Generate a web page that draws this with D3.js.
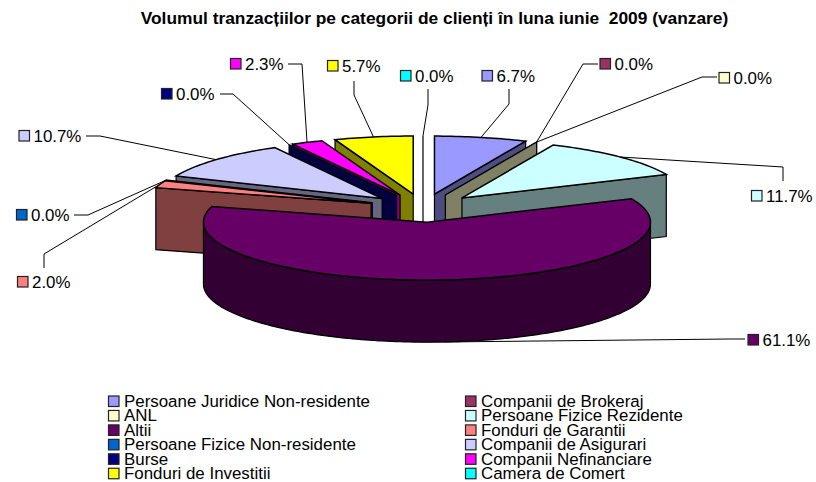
<!DOCTYPE html>
<html>
<head>
<meta charset="utf-8">
<script src="https://cdn.jsdelivr.net/npm/d3@7/dist/d3.min.js"></script>
<style>
html,body{margin:0;padding:0;background:#fff}
svg{display:block}
text{font-family:"Liberation Sans",Arial,sans-serif;fill:#000;white-space:pre}
</style>
</head>
<body>
<svg id="chart" width="816" height="482"></svg>
<script>
const titleText = "Volumul tranzacțiilor pe categorii de clienți în luna iunie  2009 (vanzare)";
const categories = ["Persoane Juridice Non-residente","Companii de Brokeraj","ANL","Persoane Fizice Rezidente","Altii","Fonduri de Garantii","Persoane Fizice Non-residente","Companii de Asigurari","Burse","Companii Nefinanciare","Fonduri de Investitii","Camera de Comert"];
const shares = [6.7,0,0,11.7,61.1,2.0,0,10.7,0,2.3,5.7,0];
const palette = ["#9999FF","#993366","#FFFFCC","#CCFFFF","#660066","#FF8080","#0066CC","#CCCCFF","#000080","#FF00FF","#FFFF00","#00FFFF"];
// label layout: swatch left edge, label centre line, then the leader's free points (label end first)
const labelX = [481.5,599.5,718.5,751,747.5,17,16,18.5,161,230,327,400];
const labelY = [76,64,78,196,340,282,215,136,94,64,66,76];
const leaderX = [[509,509],[598,583],[717,702],[783,783],[745,730],[44,44],[74,88],[86,100],[220,233],[288,302],[354,354],[428,428]];
const leaderY = [[89,104],[64,64],[77,77],[181,167],[339,339],[268,254],[215,215],[136,136],[94,94],[64,64],[81,95],[89,105]];

const cx = 423, cy = 208, rx = 223.5, ry = 58, depth = 62, explodeX = 55, explodeY = 14.2;

const svg = d3.select("#chart");
svg.append("text").attr("x",434.5).attr("y",24).attr("text-anchor","middle")
  .attr("font-size",17.35).attr("font-weight","bold").text(titleText);

const arcs = d3.pie().sort(null).value(d=>d).startAngle(0).endAngle(2*Math.PI)(shares)
  .map((a,i)=>{
    const mid=(a.startAngle+a.endAngle)/2;
    return {...a,i,mid,ox:cx+explodeX*Math.sin(mid),oy:cy-explodeY*Math.cos(mid)};
  });
const rim=(s,t)=>[s.ox+rx*Math.sin(t),s.oy-ry*Math.cos(t)];
const halve=c=>{const r=d3.rgb(c);return d3.rgb(r.r/2,r.g/2,r.b/2).formatHex();};
const path=d3.line();
const sample=(a,b)=>{const n=Math.max(1,Math.ceil(Math.abs(b-a)/0.02));return d3.range(n+1).map(k=>a+(b-a)*k/n);};

const pieG=svg.append("g").attr("stroke","#000").attr("stroke-linejoin","miter");
const leaderG=svg.append("g");

function wall(s,t){
  const p=rim(s,t);
  pieG.append("path").attr("d",path([[s.ox,s.oy],p,[p[0],p[1]+depth],[s.ox,s.oy+depth]])+"Z")
    .attr("fill",halve(palette[s.i])).attr("stroke-width",1.2);
}
[...arcs].sort((a,b)=>Math.cos(b.mid)-Math.cos(a.mid)).forEach(s=>{
  const a=s.startAngle,b=s.endAngle;
  if(Math.sin(a)<0) wall(s,a);
  if(Math.sin(b)>0) wall(s,b);
  const fs=Math.max(a,Math.PI/2),fe=Math.min(b,3*Math.PI/2);
  if(fe>fs){
    const top=sample(fs,fe).map(t=>rim(s,t));
    const bot=top.map(p=>[p[0],p[1]+depth]).reverse();
    pieG.append("path").attr("d",path(top.concat(bot))+"Z")
      .attr("fill",halve(palette[s.i])).attr("stroke-width",1.2);
  }
  if(b>a){
    pieG.append("path").attr("d",path([[s.ox,s.oy]].concat(sample(a,b).map(t=>rim(s,t))))+"Z")
      .attr("fill",palette[s.i]).attr("stroke-width",1.5);
  }
});

arcs.forEach((s,n)=>{
  const i=s.i, e=rim(s,s.mid);
  if(Math.cos(s.mid)<0) e[1]+=depth;
  const pts=leaderX[i].map((x,k)=>[x,leaderY[i][k]]).concat([e]);
  leaderG.append("path").attr("d",path(pts)).attr("fill","none").attr("stroke","#000").attr("stroke-width",1);
  leaderG.append("rect").attr("x",labelX[i]+.5).attr("y",labelY[i]-5.5).attr("width",10.5).attr("height",10.5)
    .attr("fill",palette[i]).attr("stroke","#222").attr("stroke-width",1.2);
  leaderG.append("text").attr("x",labelX[i]+15).attr("y",labelY[i]+6)
    .attr("font-size",16.9).attr("fill","#000").text(d3.format(".1f")(shares[i])+"%");
});

const legendX=[108.5,465.5], legendY0=401, legendStep=14.45;
const legend=svg.append("g");
categories.forEach((c,i)=>{
  const col=i%2,row=Math.floor(i/2),y=legendY0+row*legendStep;
  legend.append("rect").attr("x",legendX[col]).attr("y",y-5).attr("width",10.5).attr("height",10.5)
    .attr("fill",palette[i]).attr("stroke","#222").attr("stroke-width",1.2);
  legend.append("text").attr("x",legendX[col]+15.5).attr("y",y+6).attr("font-size",16.9).text(c);
});
</script>
</body>
</html>
